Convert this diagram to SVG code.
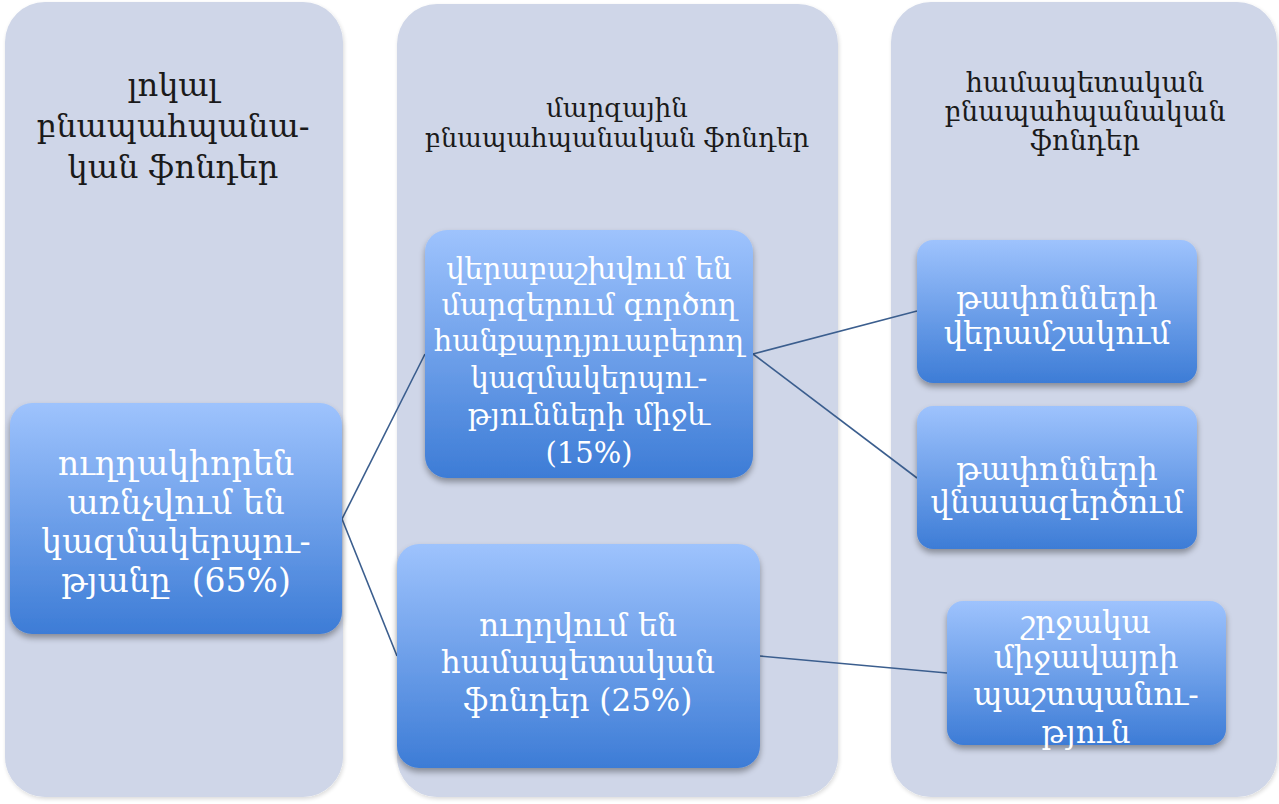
<svg xmlns="http://www.w3.org/2000/svg" width="1279" height="804" viewBox="0 0 1279 804">
<defs>
<linearGradient id="g" x1="0" y1="0" x2="0" y2="1">
<stop offset="0" stop-color="#9ec3fd"/>
<stop offset="1" stop-color="#3d7cd6"/>
</linearGradient>
<filter id="sh" x="-10%" y="-10%" width="130%" height="130%">
<feGaussianBlur in="SourceAlpha" stdDeviation="3"/>
<feOffset dx="0" dy="4" result="b"/>
<feComponentTransfer><feFuncA type="linear" slope="0.35"/></feComponentTransfer>
<feMerge><feMergeNode/><feMergeNode in="SourceGraphic"/></feMerge>
</filter>
<filter id="sh2" x="-5%" y="-5%" width="110%" height="110%">
<feGaussianBlur in="SourceAlpha" stdDeviation="2"/>
<feOffset dx="1" dy="2" result="b"/>
<feComponentTransfer><feFuncA type="linear" slope="0.15"/></feComponentTransfer>
<feMerge><feMergeNode/><feMergeNode in="SourceGraphic"/></feMerge>
</filter>
</defs>
<style>
.col{fill:#cfd6e8;filter:url(#sh2)}
.box{fill:url(#g);filter:url(#sh)}
.hd{font-family:"DejaVu Serif","Liberation Serif",serif;fill:#1a1a1a;text-anchor:middle}
.tx{font-family:"DejaVu Serif","Liberation Serif",serif;fill:#ffffff;text-anchor:middle;white-space:pre}
.ln{stroke:#3b5e8e;stroke-width:1.6;fill:none}
</style>
<rect width="1279" height="804" fill="#ffffff"/>
<g id="col1"><rect class="col" x="5" y="2" width="338" height="795" rx="40"/>
<text class="hd" font-size="32"><tspan x="173" y="96">լոկալ</tspan><tspan x="173" y="137">բնապահպանա-</tspan><tspan x="173" y="178">կան ֆոնդեր</tspan></text></g>
<g id="col2"><rect class="col" x="397" y="4" width="441" height="793" rx="40"/>
<text class="hd" font-size="26"><tspan x="617" y="117">մարզային</tspan><tspan x="617" y="147">բնապահպանական ֆոնդեր</tspan></text></g>
<g id="col3"><rect class="col" x="891" y="2" width="386" height="795" rx="40"/>
<text class="hd" font-size="27"><tspan x="1085" y="92">համապետական</tspan><tspan x="1085" y="121">բնապահպանական</tspan><tspan x="1085" y="150">ֆոնդեր</tspan></text></g>
<g id="connectors">
<line class="ln" x1="342" y1="519" x2="425" y2="354"/>
<line class="ln" x1="342" y1="519" x2="397" y2="656"/>
<line class="ln" x1="753" y1="354" x2="917" y2="311"/>
<line class="ln" x1="753" y1="354" x2="917" y2="478"/>
<line class="ln" x1="760" y1="656" x2="947" y2="673"/>
</g>
<g id="n1"><rect class="box" x="10" y="403" width="332" height="231" rx="22"/>
<text class="tx" font-size="33"><tspan x="176" y="475">ուղղակիորեն</tspan><tspan x="176" y="514">առնչվում են</tspan><tspan x="176" y="553">կազմակերպու-</tspan><tspan x="176" y="592">թյանը  (65%)</tspan></text></g>
<g id="n2"><rect class="box" x="425" y="230" width="328" height="248" rx="22"/>
<text class="tx" font-size="29"><tspan x="589" y="279">վերաբաշխվում են</tspan><tspan x="589" y="315">մարզերում գործող</tspan><tspan x="589" y="351">հանքարդյուաբերող</tspan><tspan x="589" y="388">կազմակերպու-</tspan><tspan x="589" y="425">թյունների միջև</tspan><tspan x="589" y="463">(15%)</tspan></text></g>
<g id="n3"><rect class="box" x="397" y="544" width="363" height="224" rx="22"/>
<text class="tx" font-size="31"><tspan x="578" y="636">ուղղվում են</tspan><tspan x="578" y="673">համապետական</tspan><tspan x="578" y="711">ֆոնդեր (25%)</tspan></text></g>
<g id="n4"><rect class="box" x="917" y="240" width="280" height="143" rx="16"/>
<text class="tx" font-size="31"><tspan x="1057" y="309">թափոնների</tspan><tspan x="1057" y="344">վերամշակում</tspan></text></g>
<g id="n5"><rect class="box" x="917" y="406" width="280" height="143" rx="16"/>
<text class="tx" font-size="31"><tspan x="1057" y="480">թափոնների</tspan><tspan x="1057" y="513">վնասազերծում</tspan></text></g>
<g id="n6"><rect class="box" x="947" y="601" width="279" height="144" rx="16"/>
<text class="tx" font-size="31"><tspan x="1086" y="633">շրջակա</tspan><tspan x="1086" y="668">միջավայրի</tspan><tspan x="1086" y="705">պաշտպանու-</tspan><tspan x="1086" y="743">թյուն</tspan></text></g>
</svg>
